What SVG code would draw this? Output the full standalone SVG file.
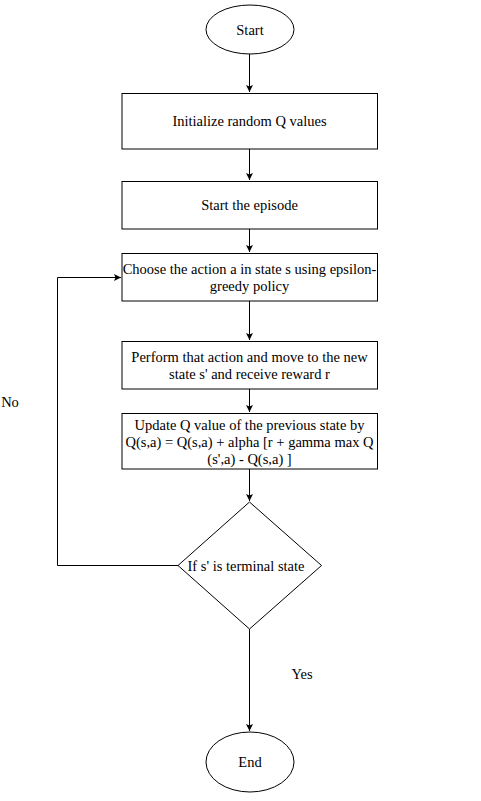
<svg xmlns="http://www.w3.org/2000/svg" width="481" height="801" viewBox="0 0 481 801">
<style>
.s{fill:#fff;stroke:#000;stroke-width:1}
.t{font-family:"Liberation Serif","Times New Roman",serif;font-size:14.5px;fill:#000;text-anchor:middle;dominant-baseline:central}
.c{fill:none;stroke:#000;stroke-width:1}
</style>
<defs>
<marker id="a" viewBox="0 0 8 8" refX="7" refY="4" markerWidth="8" markerHeight="8" markerUnits="userSpaceOnUse" orient="auto">
<path d="M0,0.5 L7,4 L0,7.5 L1.5,4 Z" fill="#000"/>
</marker>
</defs>
<rect width="481" height="801" fill="#fff"/>
<g id="connectors">
<path class="c" d="M249.5,54 L249.5,92" marker-end="url(#a)"/>
<path class="c" d="M249.5,149 L249.5,180" marker-end="url(#a)"/>
<path class="c" d="M249.5,229 L249.5,252" marker-end="url(#a)"/>
<path class="c" d="M249.5,301 L249.5,340" marker-end="url(#a)"/>
<path class="c" d="M249.5,389 L249.5,412" marker-end="url(#a)"/>
<path class="c" d="M249.5,469 L249.5,501" marker-end="url(#a)"/>
<path class="c" d="M178,565.5 L57.5,565.5 L57.5,277.5 L121,277.5" marker-end="url(#a)"/>
<path class="c" d="M249.5,629 L249.5,731" marker-end="url(#a)"/>
<text class="t" x="10" y="402">No</text>
<text class="t" x="302" y="674">Yes</text>
</g>
<g id="start">
<ellipse class="s" cx="250" cy="29.5" rx="44" ry="24.5"/>
<text class="t" x="250" y="30">Start</text>
</g>
<g id="init">
<rect class="s" x="122" y="93.5" width="255.5" height="55.5"/>
<text class="t" x="249.5" y="121">Initialize random Q values</text>
</g>
<g id="episode">
<rect class="s" x="122" y="181.5" width="255.5" height="47.5"/>
<text class="t" x="249.5" y="205">Start the episode</text>
</g>
<g id="choose">
<rect class="s" x="122" y="253.5" width="255.5" height="47.5"/>
<text class="t" x="249.5" y="269">Choose the action a in state s using epsilon-</text>
<text class="t" x="249.5" y="286">greedy policy</text>
</g>
<g id="perform">
<rect class="s" x="122" y="341.5" width="255.5" height="47.5"/>
<text class="t" x="249.5" y="357">Perform that action and move to the new</text>
<text class="t" x="249.5" y="374">state s' and receive reward r</text>
</g>
<g id="update">
<rect class="s" x="122" y="413.5" width="255.5" height="55.5"/>
<text class="t" x="249.5" y="425">Update Q value of the previous state by</text>
<text class="t" x="249.5" y="442">Q(s,a) = Q(s,a) + alpha [r + gamma max Q</text>
<text class="t" x="249.5" y="459">(s',a) - Q(s,a) ]</text>
</g>
<g id="decision">
<polygon class="s" points="249.5,502 321.5,565.5 249.5,629 178,565.5"/>
<text class="t" x="246" y="566">If s' is terminal state</text>
</g>
<g id="end">
<ellipse class="s" cx="250" cy="762" rx="44" ry="30"/>
<text class="t" x="250" y="762">End</text>
</g>
</svg>
